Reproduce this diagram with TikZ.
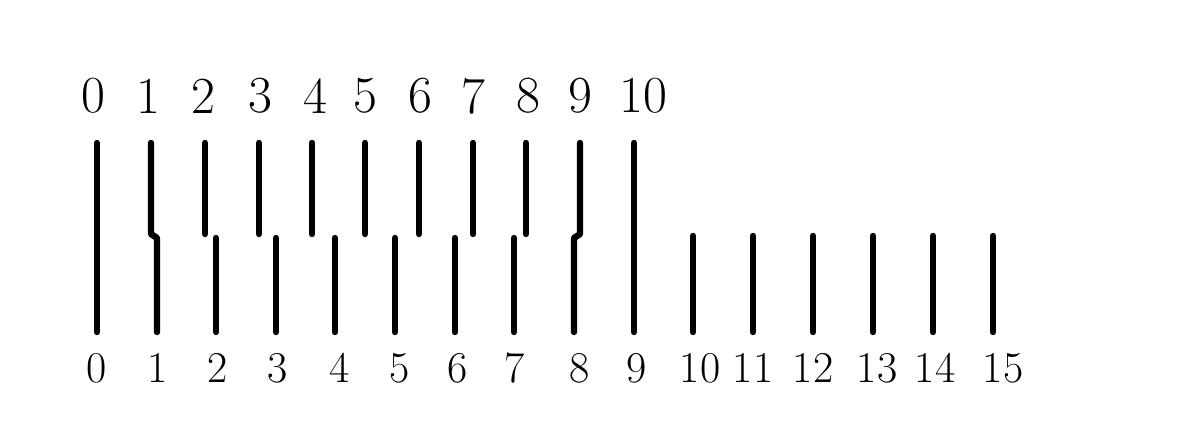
\documentclass[tikz,border=0pt]{standalone}
\usepackage{tikz}
\usetikzlibrary{positioning}
\begin{document}
\begin{tikzpicture}[x=0.5pt,y=-0.5pt]
\tikzstyle{stick}=[line width=3.2pt, line cap=round, line join=round, draw=black]
\tikzstyle{toplab}=[font=\fontsize{26}{26}\selectfont, inner sep=0pt]
\tikzstyle{botlab}=[font=\fontsize{22}{22}\selectfont, inner sep=0pt]
\useasboundingbox (0,0) rectangle (1198,447);

	% upper row of sticks and their numbers
	\foreach \i/\x/\lx in {0/97/93,1/151/148,2/205/203,3/259/260,4/312/315,5/365/365,
		6/419/420,7/473/473,8/526/528,9/580/580,10/634/643} {
		\coordinate (t_\i) at (\x,143);
		\coordinate (u_\i) at (\x,234);
		\node[toplab] (n_\i) at (\lx,96) {\i};
	}

	% lower row of sticks and their numbers
	\foreach \j/\x/\lx in {0/97/97,1/157/158,2/216/218,3/276/278,4/335/340,5/395/400,
		6/455/458,7/514/515,8/574/580,9/634/637,10/693/700,11/753/753,12/813/813,
		13/873/877,14/933/935,15/993/1003} {
		\coordinate (v_\j) at (\x,238);
		\coordinate (w_\j) at (\x,332);
		\node[botlab] (m_\j) at (\lx,368) {\j};
	}

	\draw[stick] (t_0) -- (w_0);
	\draw[stick] (t_1) -- (u_1) -- (v_1) -- (w_1);
	\draw[stick] (t_9) -- (u_9) -- (v_8) -- (w_8);
	\draw[stick] (t_10) -- (w_9);
	\foreach \i in {2,...,8}
		\draw[stick] (t_\i) -- (u_\i);
	\foreach \j in {2,...,7}
		\draw[stick] (v_\j) -- (w_\j);
	\foreach \j in {10,...,15}
		\draw[stick] ([yshift=1pt]v_\j) -- (w_\j);

\end{tikzpicture}
\end{document}
